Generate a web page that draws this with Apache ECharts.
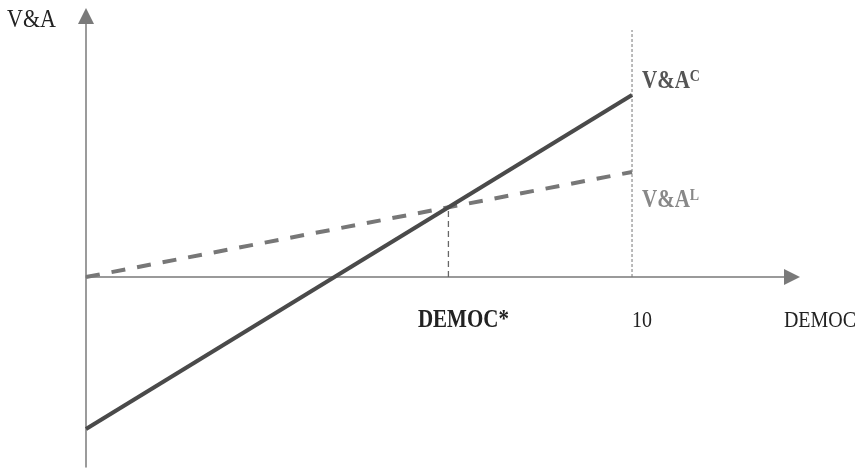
<!DOCTYPE html>
<html><head><meta charset="utf-8">
<script src="https://cdn.jsdelivr.net/npm/echarts@6/dist/echarts.min.js"></script>
<style>html,body{margin:0;padding:0;background:#fff}#c{width:858px;height:473px}</style>
</head><body><div id="c"></div>
<script>
// Data
var democRange = [0, 10];
var vaC = [-15.2, 18.2];   // V&A^C at DEMOC = 0 and 10
var vaL = [0, 10.5];       // V&A^L at DEMOC = 0 and 10
var refLineTop = 24.7;     // top of dotted line at DEMOC = 10
var xMax = 12.93, yMin = -19, yMax = 26.1;

// intersection
var sC = (vaC[1]-vaC[0])/(democRange[1]-democRange[0]);
var sL = (vaL[1]-vaL[0])/(democRange[1]-democRange[0]);
var xStar = (vaL[0]-vaC[0])/(sC-sL);
var yStar = vaL[0] + sL*xStar;

var chart = echarts.init(document.getElementById('c'));
var font = '"Liberation Serif", "Times New Roman", serif';
var axisColor = '#7a7a7a';
chart.setOption({
  animation:false,
  grid:{left:86, right:66, top:16, bottom:6},
  xAxis:{type:'value', min:0, max:xMax, splitLine:{show:false}, axisTick:{show:false}, axisLabel:{show:false},
    axisLine:{onZero:true, lineStyle:{color:axisColor, width:1.5}, symbol:['none','triangle'], symbolSize:[16,16]}},
  yAxis:{type:'value', min:yMin, max:yMax, splitLine:{show:false}, axisTick:{show:false}, axisLabel:{show:false},
    axisLine:{onZero:false, lineStyle:{color:axisColor, width:1.5}, symbol:['none','triangle'], symbolSize:[16,16]}},
  series:[
    {type:'line', data:[[democRange[1],0],[democRange[1],refLineTop]], symbol:'none',
      lineStyle:{color:'#777', width:1, type:[3,2]}},
    {type:'line', data:[[xStar,0],[xStar,yStar]], symbol:'none',
      lineStyle:{color:'#666', width:1.3, type:[6,4]}},
    {type:'line', data:[[democRange[0],vaL[0]],[democRange[1],vaL[1]]], symbol:'none',
      lineStyle:{color:'#777', width:4, type:[14,12]}},
    {type:'line', data:[[democRange[0],vaC[0]],[democRange[1],vaC[1]]], symbol:'none',
      lineStyle:{color:'#4a4a4a', width:4}}
  ]
});
function px(x,y){return chart.convertToPixel({gridIndex:0},[x,y]);}
var p10 = px(democRange[1],0), pStar = px(xStar,0), pC = px(democRange[1],vaC[1]), pL = px(democRange[1],vaL[1]);
var sy = 1.15;
function sup(col){
  return {b:{font:'bold 21px '+font, fill:col, verticalAlign:'bottom'}, s:{font:'bold 14px '+font, fill:col, verticalAlign:'top', padding:[0,0,8,0]}};
}
chart.setOption({graphic:[
  {type:'text', x:7, y:20, scaleY:sy, style:{text:'V&A', font:'22px '+font, fill:'#222', verticalAlign:'middle'}},
  {type:'text', x:pStar[0]+15, y:p10[1]+44, scaleY:sy, style:{text:'DEMOC*', font:'bold 21px '+font, fill:'#222', align:'center', verticalAlign:'middle'}},
  {type:'text', x:p10[0]+10, y:p10[1]+44, scaleY:sy, style:{text:'10', font:'20px '+font, fill:'#222', align:'center', verticalAlign:'middle'}},
  {type:'text', x:820, y:p10[1]+44, scaleY:sy, style:{text:'DEMOC', font:'20px '+font, fill:'#222', align:'center', verticalAlign:'middle'}},
  {type:'text', x:pC[0]+10, y:pC[1]-14, scaleY:sy, style:{text:'{b|V&A}{s|C}', verticalAlign:'middle', rich:sup('#555')}},
  {type:'text', x:pL[0]+10, y:pL[1]+28, scaleY:sy, style:{text:'{b|V&A}{s|L}', verticalAlign:'middle', rich:sup('#888')}}
]});
</script></body></html>
